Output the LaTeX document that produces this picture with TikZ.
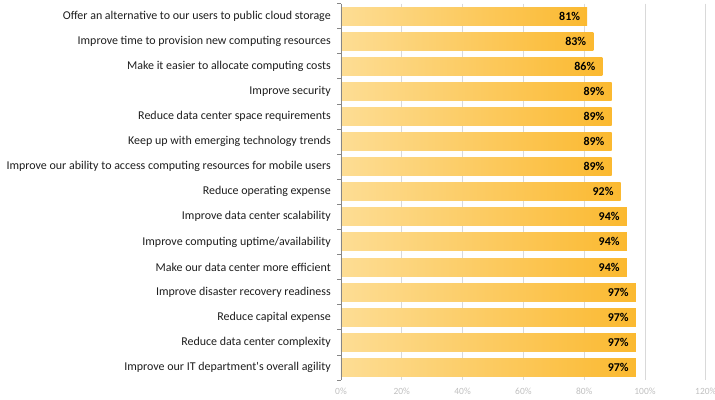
\documentclass[tikz,border=0pt]{standalone}
\usepackage{fontspec}
\setmainfont{Carlito}
\usepackage{tikz}
\usetikzlibrary{positioning}
\definecolor{barlight}{RGB}{253,221,148}
\definecolor{bardark}{RGB}{251,185,48}
\definecolor{gridgray}{RGB}{217,217,217}
\definecolor{axisgray}{RGB}{134,134,134}
\definecolor{ticktext}{RGB}{191,191,191}
\definecolor{labeltext}{RGB}{30,30,30}

\begin{document}
\begin{tikzpicture}[x=3.04bp,y=-1bp,
  bar/.style={left color=barlight,right color=bardark,draw=none},
  lbl/.style={anchor=east,inner sep=0pt,font=\fontsize{12}{12}\selectfont,text=labeltext},
  val/.style={anchor=east,inner sep=0pt,xshift=-7bp,font=\fontsize{12}{12}\selectfont\bfseries,text=black},
  pct/.style={inner sep=0pt,font=\fontsize{9.5}{10}\selectfont,text=ticktext},
  grid/.style={gridgray,line width=0.8bp}]
\useasboundingbox (-112.17,0) rectangle (123.03,400);

% gridlines
\draw[grid] (20,3.5) -- (20,380);
\draw[grid] (40,3.5) -- (40,380);
\draw[grid] (60,3.5) -- (60,380);
\draw[grid] (80,3.5) -- (80,380);
\draw[grid] (100,3.5) -- (100,380);
\draw[grid] (120,3.5) -- (120,380);

% bars
\shade[bar] (0,7) rectangle (81,25);
\shade[bar] (0,32.1) rectangle (83,50.1);
\shade[bar] (0,57.2) rectangle (86,75.2);
\shade[bar] (0,82.3) rectangle (89,100.3);
\shade[bar] (0,107.4) rectangle (89,125.4);
\shade[bar] (0,132.5) rectangle (89,150.5);
\shade[bar] (0,157.6) rectangle (89,175.6);
\shade[bar] (0,182.7) rectangle (92,200.7);
\shade[bar] (0,207.8) rectangle (94,225.8);
\shade[bar] (0,232.9) rectangle (94,250.9);
\shade[bar] (0,258) rectangle (94,276);
\shade[bar] (0,283.1) rectangle (97,301.1);
\shade[bar] (0,308.2) rectangle (97,326.2);
\shade[bar] (0,333.3) rectangle (97,351.3);
\shade[bar] (0,358.4) rectangle (97,376.4);

% category axis
\draw[axisgray,line width=0.8bp] (0,3.5) -- (0,380);
\foreach \t in {0,...,15}
  \draw[axisgray,line width=0.8bp] (0,3.5+25.1*\t) -- ++(-1.3,0);

% labels
\node[lbl] (l1) at (-3.3,16) {Offer an alternative to our users to public cloud storage};
\node[lbl] (l2) at (-3.3,41.1) {Improve time to provision new computing resources};
\node[lbl] (l3) at (-3.3,66.2) {Make it easier to allocate computing costs};
\node[lbl] (l4) at (-3.3,91.3) {Improve security};
\node[lbl] (l5) at (-3.3,116.4) {Reduce data center space requirements};
\node[lbl] (l6) at (-3.3,141.5) {Keep up with emerging technology trends};
\node[lbl] (l7) at (-3.3,166.6) {Improve our ability to access computing resources for mobile users};
\node[lbl] (l8) at (-3.3,191.7) {Reduce operating expense};
\node[lbl] (l9) at (-3.3,216.8) {Improve data center scalability};
\node[lbl] (l10) at (-3.3,241.9) {Improve computing uptime/availability};
\node[lbl] (l11) at (-3.3,267) {Make our data center more efficient};
\node[lbl] (l12) at (-3.3,292.1) {Improve disaster recovery readiness};
\node[lbl] (l13) at (-3.3,317.2) {Reduce capital expense};
\node[lbl] (l14) at (-3.3,342.3) {Reduce data center complexity};
\node[lbl] (l15) at (-3.3,367.4) {Improve our IT department\textquotesingle s overall agility};

% values
\node[val] (v1) at (81,16) {81\%};
\node[val] (v2) at (83,41.1) {83\%};
\node[val] (v3) at (86,66.2) {86\%};
\node[val] (v4) at (89,91.3) {89\%};
\node[val] (v5) at (89,116.4) {89\%};
\node[val] (v6) at (89,141.5) {89\%};
\node[val] (v7) at (89,166.6) {89\%};
\node[val] (v8) at (92,191.7) {92\%};
\node[val] (v9) at (94,216.8) {94\%};
\node[val] (v10) at (94,241.9) {94\%};
\node[val] (v11) at (94,267) {94\%};
\node[val] (v12) at (97,292.1) {97\%};
\node[val] (v13) at (97,317.2) {97\%};
\node[val] (v14) at (97,342.3) {97\%};
\node[val] (v15) at (97,367.4) {97\%};

% value axis
\node[pct] (p0) at (0,391) {0\%};
\node[pct] (p20) at (20,391) {20\%};
\node[pct] (p40) at (40,391) {40\%};
\node[pct] (p60) at (60,391) {60\%};
\node[pct] (p80) at (80,391) {80\%};
\node[pct] (p100) at (100,391) {100\%};
\node[pct] (p120) at (120,391) {120\%};
\end{tikzpicture}
\end{document}
